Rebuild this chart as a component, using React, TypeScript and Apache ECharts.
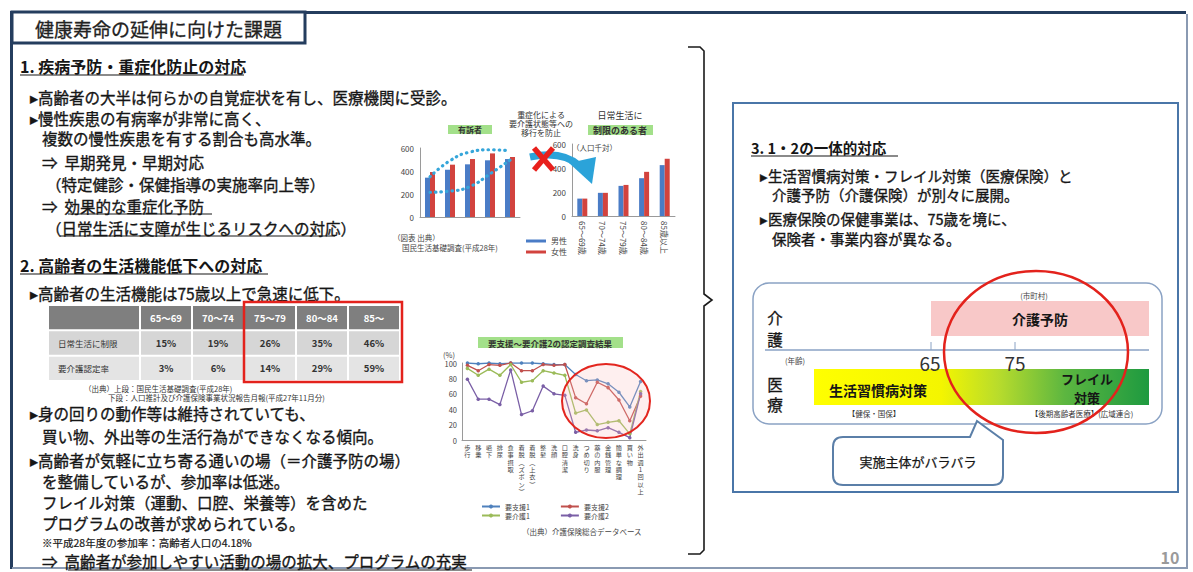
import React, { useEffect, useRef } from "react";
import * as echarts from "echarts";

const FONT = '"Noto Sans CJK JP", "Noto Sans", sans-serif';

// ---- bar charts (人口千対) ----
const ageGroups = ["65～69歳", "70～74歳", "75～79歳", "80～84歳", "85歳以上"];
const complaintMale = [342, 411, 458, 493, 504];
const complaintFemale = [391, 455, 504, 553, 522];
const trendUpper = [350, 490, 565, 585, 575];
const trendLower = [215, 225, 265, 375, 495];
const limitMale = [145, 193, 251, 315, 424];
const limitFemale = [145, 193, 259, 368, 477];

// ---- table ----
const tableHeaders = ["65～69", "70～74", "75～79", "80～84", "85～"];
const tableRowLabels = ["日常生活に制限", "要介護認定率"];
const dailyLimitRate = ["15%", "19%", "26%", "35%", "46%"];
const careCertRate = ["3%", "6%", "14%", "29%", "59%"];

// ---- line chart (%) ----
const adlItems = ["歩行", "移乗", "嚥下", "排尿", "食事摂取", "着脱(ズボン)", "着脱(上衣)", "整髪", "洗顔", "口腔清潔", "洗身", "つめ切り", "薬の内服", "金銭管理", "簡単な調理", "買い物", "外出週1回以上"];
const support1 = [100, 99, 100, 99, 100, 100, 100, 99, 98, 98, 85, 77, 78, 73, 62, 43, 76];
const support2 = [97, 90, 98, 97, 100, 90, 90, 98, 97, 98, 55, 47, 75, 68, 52, 25, 57];
const care1 = [93, 84, 92, 84, 98, 75, 77, 90, 87, 84, 35, 39, 20, 23, 25, 8, 63];
const care2 = [79, 53, 53, 46, 91, 33, 38, 70, 60, 58, 10, 13, 12, 16, 10, 3, 60];

const BLUE = "#4a7cc6";
const RED = "#d2433e";

const fnt = (size: number, weight = "normal") => `${weight} ${size}px ${FONT}`;
function txt(text: string, x: number, y: number, size: number, o: any = {}) {
  const color = o.color || "#161616";
  const style: any = { text, font: fnt(size, o.weight || "normal"), fill: color, align: o.align || "left", verticalAlign: "middle" };
  if (o.heavy) { style.stroke = color; style.lineWidth = o.heavy; }
  return { type: "text", x, y, z: o.z ?? 20, silent: true, style };
}
function body(text: string, x: number, y: number, size = 15.5) {
  return txt(text, x, y, size, { heavy: 0.35 });
}
function ln(x1: number, y1: number, x2: number, y2: number, color = "#161616", w = 1, z = 20) {
  return { type: "line", z, silent: true, shape: { x1, y1, x2, y2 }, style: { stroke: color, lineWidth: w } };
}

let registered = false;
function registerShapes() {
  if (registered) return;
  registered = true;
  const d = "M843 437 L970 437 L977 421 L1003 440 L1003 475 Q1003 485 993 485 L843 485 Q833 485 833 475 L833 447 Q833 437 843 437 Z";
  echarts.graphic.registerShape("callout", echarts.graphic.extendPath(d, {}) as any);
}

type Cell = { col: number; row: number; text: string; kind: string };
const tableCells: Cell[] = [];
tableCells.push({ col: 0, row: 0, text: "", kind: "label" });
tableRowLabels.forEach((t, r) => tableCells.push({ col: 0, row: r + 1, text: t, kind: "label" }));
tableHeaders.forEach((h, i) => tableCells.push({ col: i, row: 0, text: h, kind: "head" }));
[dailyLimitRate, careCertRate].forEach((arr, r) => arr.forEach((v, i) => tableCells.push({ col: i, row: r + 1, text: v, kind: "val" })));

const vert = (v: string) => v.split("").map((c) => (c === "(" ? "︵" : c === ")" ? "︶" : c)).join("\n");

export default function App() {
  const ref = useRef<HTMLDivElement>(null);
  useEffect(() => {
    if (!ref.current) return;
    registerShapes();
    const chart = echarts.init(ref.current, null, { renderer: "svg" });
    const axisLine = { show: true, lineStyle: { color: "#9a9a9a", width: 1 } };
    const smallLabel = { fontSize: 8, color: "#444", fontFamily: FONT };

    const graphic: any[] = [
      // frame
      { type: "rect", z: 1, shape: { x: 10, y: 11, width: 1176, height: 3 }, style: { fill: "#243d5e" } },
      { type: "rect", z: 1, shape: { x: 10, y: 11, width: 3, height: 558 }, style: { fill: "#243d5e" } },
      ln(1187, 14, 1187, 569, "#8a9ab2", 2, 1),
      ln(12, 568, 1188, 568, "#8a9ab2", 2, 1),
      { type: "rect", z: 2, shape: { x: 12, y: 12, width: 293, height: 31 }, style: { fill: "#fff", stroke: "#243d5e", lineWidth: 3 } },
      txt("健康寿命の延伸に向けた課題", 35, 28, 19, { color: "#222", heavy: 0.3 }),

      // section 1
      txt("1. 疾病予防・重症化防止の対応", 20, 66, 16, { weight: "bold" }),
      ln(20, 75, 244, 75, "#161616", 1.2),
      body("▸高齢者の大半は何らかの自覚症状を有し、医療機関に受診。", 30, 97),
      body("▸慢性疾患の有病率が非常に高く、", 30, 118),
      body("複数の慢性疾患を有する割合も高水準。", 42, 138),
      body("⇒  早期発見・早期対応", 42, 162),
      body("（特定健診・保健指導の実施率向上等）", 46, 184),
      body("⇒  効果的な重症化予防", 42, 206),
      ln(68, 214, 212, 214, "#161616", 1),
      body("（日常生活に支障が生じるリスクへの対応）", 46, 228),
      ln(60, 236, 335, 236, "#161616", 1),

      // section 2
      txt("2. 高齢者の生活機能低下への対応", 20, 265, 16, { weight: "bold" }),
      ln(20, 274, 268, 274, "#161616", 1.2),
      body("▸高齢者の生活機能は75歳以上で急速に低下。", 30, 293),
      { type: "rect", z: 30, shape: { x: 244, y: 302, width: 158, height: 80 }, style: { fill: null, stroke: "#e3221c", lineWidth: 2.5 } },
      txt("（出典）上段：国民生活基礎調査(平成28年)", 84, 388, 7.5, { color: "#333" }),
      txt("下段：人口推計及び介護保険事業状況報告月報(平成27年11月分)", 108, 397, 7.5, { color: "#333" }),
      body("▸身の回りの動作等は維持されていても、", 30, 413),
      body("買い物、外出等の生活行為ができなくなる傾向。", 42, 436),
      body("▸高齢者が気軽に立ち寄る通いの場（＝介護予防の場）", 30, 460),
      body("を整備しているが、参加率は低迷。", 42, 481),
      body("フレイル対策（運動、口腔、栄養等）を含めた", 42, 502),
      body("プログラムの改善が求められている。", 42, 523),
      txt("※平成28年度の参加率：高齢者人口の4.18%", 42, 542, 10.5, { heavy: 0.2 }),
      body("⇒  高齢者が参加しやすい活動の場の拡大、プログラムの充実", 42, 561),
      ln(68, 570, 472, 570, "#161616", 1),

      // brace
      { type: "polyline", z: 20, shape: { points: [[688, 47], [700, 47], [704, 51], [704, 294], [712, 300], [704, 306], [704, 550], [700, 554], [688, 554]] }, style: { stroke: "#1a1a1a", lineWidth: 1.6, fill: null } },

      // chart 1 annotations
      { type: "rect", z: 20, shape: { x: 448, y: 125, width: 44, height: 9 }, style: { fill: "#a3e08a" } },
      txt("有訴者", 470, 129.5, 8, { weight: "bold", align: "center", color: "#333", z: 21 }),
      txt("（図表 出典）", 393, 237, 7.5, { color: "#444" }),
      txt("国民生活基礎調査(平成28年)", 402, 247, 7.5, { color: "#444" }),

      // middle annotation
      txt("重症化による", 541, 114, 8, { align: "center", color: "#333" }),
      txt("要介護状態等への", 541, 123, 8, { align: "center", color: "#333" }),
      txt("移行を防止", 541, 132, 8, { align: "center", color: "#333" }),
      { type: "bezierCurve", z: 25, shape: { x1: 530, y1: 157, cpx1: 562, cpy1: 150, x2: 580, y2: 166 }, style: { stroke: "#2ba3d9", lineWidth: 7, fill: null } },
      { type: "polygon", z: 25, shape: { points: [[569, 163], [596, 157], [592, 184]] }, style: { fill: "#2ba3d9" } },
      ln(534, 148, 553, 170, "#e8201c", 5.5, 26),
      ln(553, 148, 534, 170, "#e8201c", 5.5, 26),

      // chart 2 annotations
      txt("日常生活に", 620, 115, 9, { align: "center", color: "#333" }),
      { type: "rect", z: 20, shape: { x: 588, y: 125, width: 65, height: 10 }, style: { fill: "#a3e08a" } },
      txt("制限のある者", 620, 130, 9, { weight: "bold", align: "center", color: "#333", z: 21 }),
      txt("（人口千対）", 572, 147, 7.5, { color: "#444" }),

      // line chart annotations
      { type: "rect", z: 20, shape: { x: 478, y: 337, width: 145, height: 11 }, style: { fill: "#a3e08a" } },
      txt("要支援〜要介護2の認定調査結果", 550, 342.5, 8.5, { weight: "bold", align: "center", color: "#333", z: 21 }),
      txt("(%)", 443, 354, 7.5, { color: "#444" }),
      { type: "ellipse", z: 12, shape: { cx: 606, cy: 401, rx: 44, ry: 37 }, style: { fill: "rgba(250,190,190,0.25)", stroke: "#e3261f", lineWidth: 2 } },
      txt("（出典）介護保険総合データベース", 522, 531, 7.5, { color: "#444" }),

      // right panel
      { type: "rect", z: 2, shape: { x: 733, y: 103, width: 445, height: 389 }, style: { fill: "#fff", stroke: "#4a76a8", lineWidth: 2 } },
      txt("3. 1・2の一体的対応", 751, 147, 14.5, { weight: "bold" }),
      ln(751, 156, 898, 156, "#161616", 1.2),
      body("▸生活習慣病対策・フレイル対策（医療保険）と", 760, 175, 14.5),
      body("介護予防（介護保険）が別々に展開。", 772, 194, 14.5),
      body("▸医療保険の保健事業は、75歳を境に、", 760, 218, 14.5),
      body("保険者・事業内容が異なる。", 772, 238, 14.5),
      { type: "rect", z: 3, shape: { x: 753, y: 283, width: 409, height: 141, r: 16 }, style: { fill: "#fff", stroke: "#8aa2c4", lineWidth: 1.5 } },
      txt("介", 775, 317, 15.5, { align: "center", heavy: 0.3 }),
      txt("護", 775, 339, 15.5, { align: "center", heavy: 0.3 }),
      txt("医", 775, 384, 15.5, { align: "center", heavy: 0.3 }),
      txt("療", 775, 404, 15.5, { align: "center", heavy: 0.3 }),
      { type: "rect", z: 5, shape: { x: 931, y: 301, width: 218, height: 35 }, style: { fill: "#f8c8c8" } },
      txt("介護予防", 1040, 319, 14, { weight: "bold", align: "center" }),
      txt("(市町村)", 1034, 295, 7.5, { align: "center", color: "#444" }),
      ln(765, 350, 1149, 350, "#8aa2c4", 1.5, 5),
      ln(931, 342, 931, 350, "#8aa2c4", 1, 5),
      ln(1015, 342, 1015, 350, "#8aa2c4", 1, 5),
      txt("(年齢)", 795, 360, 7.5, { align: "center", color: "#444" }),
      txt("65", 930, 362, 19, { align: "center", color: "#333" }),
      txt("75", 1015, 362, 19, { align: "center", color: "#333" }),
      {
        type: "rect", z: 5, shape: { x: 814, y: 369, width: 335, height: 36 },
        style: {
          fill: new echarts.graphic.LinearGradient(0, 0, 1, 0, [
            { offset: 0, color: "#ffff00" },
            { offset: 0.38, color: "#f4f500" },
            { offset: 0.55, color: "#b8dc2c" },
            { offset: 0.75, color: "#5cb640" },
            { offset: 1, color: "#1e9a40" },
          ]),
        },
      },
      txt("生活習慣病対策", 878, 390, 14, { weight: "bold", align: "center" }),
      txt("フレイル", 1087, 378.5, 13, { weight: "bold", align: "center" }),
      txt("対策", 1087, 397.5, 13, { weight: "bold", align: "center" }),
      txt("【健保・国保】", 874, 413, 7.5, { align: "center", color: "#333" }),
      txt("【後期高齢者医療】(広域連合)", 1082, 413, 7.5, { align: "center", color: "#333" }),
      { type: "ellipse", z: 30, shape: { cx: 1036, cy: 352, rx: 92, ry: 81 }, style: { fill: null, stroke: "#e3221c", lineWidth: 2.5 } },
      { type: "callout", z: 8, style: { fill: "#fff", stroke: "#5b7fa8", lineWidth: 2 } },
      txt("実施主体がバラバラ", 918, 461, 13, { align: "center", z: 9, heavy: 0.25 }),

      txt("10", 1170, 557, 16, { weight: "bold", align: "center", color: "#9a9a9a" }),
    ];

    const option: any = {
      animation: false,
      backgroundColor: "#fff",
      textStyle: { fontFamily: FONT },
      grid: [
        { left: 420, top: 148, width: 100, height: 69 },
        { left: 572, top: 144, width: 103, height: 72 },
        { left: 462, top: 363, width: 184, height: 77 },
        { left: 140, top: 305, width: 260, height: 76 },
      ],
      xAxis: [
        { type: "category", gridIndex: 0, data: ageGroups, axisLine, axisTick: { show: false }, axisLabel: { show: false } },
        { type: "category", gridIndex: 1, data: ageGroups, axisLine, axisTick: { show: false }, axisLabel: { ...smallLabel, rotate: -90, interval: 0, margin: 5 } },
        { type: "category", gridIndex: 2, data: adlItems, axisLine, axisTick: { show: false }, axisLabel: { ...smallLabel, fontSize: 6.2, lineHeight: 7.3, interval: 0, margin: 4, formatter: (v: string) => vert(v) } },
        { type: "category", gridIndex: 3, data: tableHeaders, show: false },
      ],
      yAxis: [
        { type: "value", gridIndex: 0, min: 0, max: 600, interval: 200, axisLine, axisTick: { show: false }, splitLine: { show: false }, axisLabel: { ...smallLabel, margin: 6 } },
        { type: "value", gridIndex: 1, min: 0, max: 600, interval: 200, axisLine, axisTick: { show: false }, splitLine: { show: false }, axisLabel: { ...smallLabel, margin: 6 } },
        { type: "value", gridIndex: 2, min: 0, max: 100, interval: 20, axisLine, axisTick: { show: false }, splitLine: { show: false }, axisLabel: { ...smallLabel, fontSize: 7.5, margin: 5 } },
        { type: "category", gridIndex: 3, data: ["項目", ...tableRowLabels], inverse: true, show: false },
      ],
      legend: [
        { data: ["男性", "女性"], orient: "vertical", left: 521, top: 232, itemWidth: 20, itemHeight: 3, itemGap: 3, icon: "rect", selectedMode: false, textStyle: { ...smallLabel } },
        { data: ["要支援1", "要支援2"], orient: "horizontal", left: 476, top: 498, itemWidth: 18, itemHeight: 5, itemGap: 30, selectedMode: false, textStyle: { ...smallLabel, fontSize: 7 } },
        { data: ["要介護1", "要介護2"], orient: "horizontal", left: 476, top: 507, itemWidth: 18, itemHeight: 5, itemGap: 30, selectedMode: false, textStyle: { ...smallLabel, fontSize: 7 } },
      ],
      series: [
        { type: "bar", name: "男性", xAxisIndex: 0, yAxisIndex: 0, data: complaintMale, barWidth: 5, barGap: "0%", itemStyle: { color: BLUE } },
        { type: "bar", name: "女性", xAxisIndex: 0, yAxisIndex: 0, data: complaintFemale, barWidth: 5, barGap: "0%", itemStyle: { color: RED } },
        { type: "line", name: "trendUpper", xAxisIndex: 0, yAxisIndex: 0, data: trendUpper, smooth: true, symbol: "none", z: 5, lineStyle: { color: "#36a6da", width: 3.2, type: [0.5, 5], cap: "round" } },
        { type: "line", name: "trendLower", xAxisIndex: 0, yAxisIndex: 0, data: trendLower, smooth: true, symbol: "none", z: 5, lineStyle: { color: "#36a6da", width: 3.2, type: [0.5, 5], cap: "round" } },
        { type: "bar", name: "男性", xAxisIndex: 1, yAxisIndex: 1, data: limitMale, barWidth: 5, barGap: "0%", itemStyle: { color: BLUE } },
        { type: "bar", name: "女性", xAxisIndex: 1, yAxisIndex: 1, data: limitFemale, barWidth: 5, barGap: "0%", itemStyle: { color: RED } },
        { type: "line", name: "要支援1", xAxisIndex: 2, yAxisIndex: 2, data: support1, symbol: "circle", symbolSize: 3.5, lineStyle: { width: 1.3, color: "#4f81bd" }, itemStyle: { color: "#4f81bd" } },
        { type: "line", name: "要支援2", xAxisIndex: 2, yAxisIndex: 2, data: support2, symbol: "circle", symbolSize: 3.5, lineStyle: { width: 1.3, color: "#c0504d" }, itemStyle: { color: "#c0504d" } },
        { type: "line", name: "要介護1", xAxisIndex: 2, yAxisIndex: 2, data: care1, symbol: "circle", symbolSize: 3.5, lineStyle: { width: 1.3, color: "#9bbb59" }, itemStyle: { color: "#9bbb59" } },
        { type: "line", name: "要介護2", xAxisIndex: 2, yAxisIndex: 2, data: care2, symbol: "circle", symbolSize: 3.5, lineStyle: { width: 1.3, color: "#7a5fa6" }, itemStyle: { color: "#7a5fa6" } },
        {
          type: "custom", name: "table", xAxisIndex: 3, yAxisIndex: 3, clip: false,
          data: tableCells.map((c) => [c.col, c.row]),
          renderItem: (params: any, api: any) => {
            const c = tableCells[params.dataIndex];
            const p = api.coord([c.col, c.row]);
            const s = api.size([1, 1]);
            const bw = s[0];
            const bh = s[1];
            let x = p[0] - bw / 2;
            let w = bw;
            if (c.kind === "label") { w = 92; x = p[0] - bw / 2 - 92; }
            const y = p[1] - bh / 2;
            const fill = c.row === 0 ? "#7f7f7f" : c.row === 1 ? "#d6d6d6" : "#e4e4e4";
            const isLabel = c.kind === "label";
            return {
              type: "group",
              children: [
                { type: "rect", shape: { x: x + 1, y: y + 1, width: w - 2, height: bh - 2 }, style: { fill } },
                {
                  type: "text", x: isLabel ? x + 10 : x + w / 2, y: y + bh / 2,
                  style: {
                    text: c.text,
                    fill: c.row === 0 ? "#fff" : "#333",
                    font: fnt(isLabel ? 8.5 : 9.5, isLabel ? "normal" : "bold"),
                    align: isLabel ? "left" : "center",
                    verticalAlign: "middle",
                  },
                },
              ],
            };
          },
        },
      ],
      graphic,
    };
    chart.setOption(option);
    return () => chart.dispose();
  }, []);
  return <div ref={ref} style={{ position: "absolute", left: 0, top: 0, width: 1193, height: 572, background: "#fff" }} />;
}
